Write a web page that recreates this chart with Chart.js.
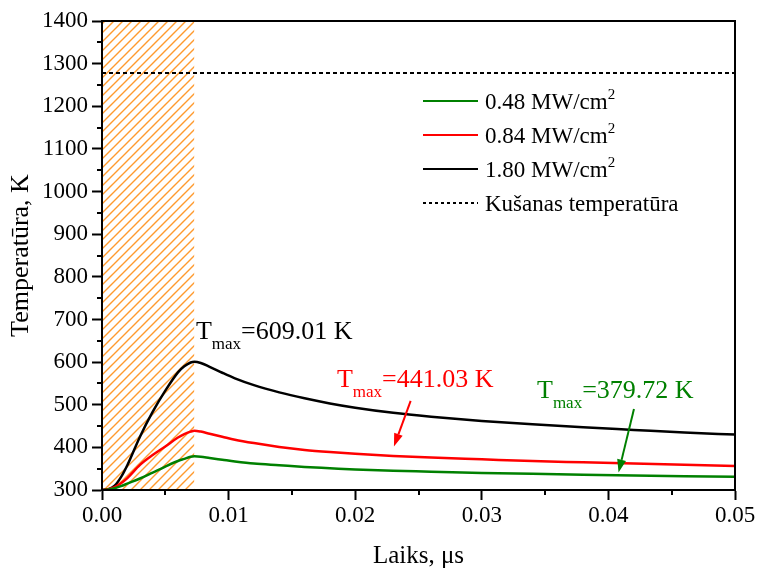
<!DOCTYPE html>
<html lang="lv">
<head>
  <meta charset="UTF-8" />
  <title>Temperatūra pret laiku</title>
  <script src="https://cdn.jsdelivr.net/npm/chart.js@4.4.0/dist/chart.umd.min.js"></script>
  <style>
    html, body { margin: 0; padding: 0; background: #fff; }
    canvas { display: block; }
  </style>
</head>
<body>
<canvas id="chart" width="759" height="571"></canvas>

<script>
  // ── data ────────────────────────────────────────────────────
  const timeUs   = [0, 0.0005, 0.001, 0.0015, 0.002, 0.003, 0.004, 0.005, 0.006, 0.0065, 0.007, 0.0073,
                    0.0078, 0.0085, 0.0095, 0.0105, 0.012, 0.014, 0.016, 0.018, 0.02, 0.023, 0.026,
                    0.03, 0.034, 0.038, 0.042, 0.046, 0.05];
  const temp048  = [300, 301, 304, 309, 315, 327, 341, 355, 368, 373, 378, 379,
                    378, 375, 371, 367, 362, 358, 354, 351, 348, 345, 343,
                    340, 338, 336, 334, 332.5, 331];
  const temp084  = [300, 302, 307, 316, 328, 359, 382, 402, 423, 431, 437, 439,
                    437, 432, 425, 418, 410, 401, 394, 389, 385, 380, 376,
                    372, 368, 365, 362, 359, 356];
  const temp180  = [300, 302, 310, 330, 358, 425, 483, 533, 576, 590, 599, 601,
                    598, 589, 575, 562, 546, 529, 515, 503, 493, 481, 472,
                    462, 454, 447, 441, 435, 430];
  const seriesLabels = ['0.48 MW/cm²', '0.84 MW/cm²', '1.80 MW/cm²'];
  const meltLabel    = 'Kušanas temperatūra';
  const meltTemp     = 1278;
  const pulseEnd     = 0.0073;              // hatched laser pulse
  const peakTexts    = ['=379.72 K', '=441.03 K', '=609.01 K'];
  const xTitle = 'Laiks, μs';
  const yTitle = 'Temperatūra, K';

  // annotation anchors (data units)
  const peakLabelAt = [[0.03436, 516], [0.01856, 542], [0.00742, 654]];
  const arrowTail   = [[0.04202, 490], [0.02438, 509], null];
  const arrowHead   = [[0.04080, 341], [0.02306, 402], null];

  const colors = ['#008000', '#ff0000', '#000000'];
  const SERIF = "'Liberation Serif', 'Times New Roman', serif";

  const pts = ys => timeUs.map((t, i) => ({ x: t, y: ys[i] }));

  function hatchPattern() {
    const s = 9, c = document.createElement('canvas');
    c.width = c.height = s;
    const g = c.getContext('2d');
    g.strokeStyle = '#ff9a2e';
    g.lineWidth = 1.4;
    g.beginPath();
    g.moveTo(0, s); g.lineTo(s, 0);
    g.moveTo(-2, 2); g.lineTo(2, -2);
    g.moveTo(s - 2, s + 2); g.lineTo(s + 2, s - 2);
    g.stroke();
    return g.createPattern(c, 'repeat');
  }

  // text with a raised (sup) or lowered (sub) part
  function richText(ctx, x, y, parts) {
    for (const p of parts) {
      ctx.font = p.size + 'px ' + SERIF;
      ctx.fillText(p.t, x, y + (p.dy || 0));
      x += ctx.measureText(p.t).width;
    }
  }

  function arrow(ctx, x1, y1, x2, y2, color) {
    const a = Math.atan2(y2 - y1, x2 - x1), L = 13, W = 4.5;
    const bx = x2 - L * Math.cos(a), by = y2 - L * Math.sin(a);
    ctx.strokeStyle = color; ctx.fillStyle = color; ctx.lineWidth = 2;
    ctx.beginPath(); ctx.moveTo(x1, y1); ctx.lineTo(bx, by); ctx.stroke();
    ctx.beginPath();
    ctx.moveTo(x2, y2);
    ctx.lineTo(bx + W * Math.sin(a), by - W * Math.cos(a));
    ctx.lineTo(bx - W * Math.sin(a), by + W * Math.cos(a));
    ctx.closePath(); ctx.fill();
  }

  const decor = {
    id: 'decor',
    afterDraw(chart) {
      const { ctx, chartArea: a, scales: { x, y } } = chart;
      ctx.save();
      // frame
      ctx.strokeStyle = '#000'; ctx.lineWidth = 2;
      ctx.strokeRect(a.left, a.top, a.right - a.left, a.bottom - a.top);

      // minor ticks
      ctx.beginPath();
      for (let v = 350; v < 1400; v += 100) {
        const py = Math.round(y.getPixelForValue(v));
        ctx.moveTo(a.left - 5, py); ctx.lineTo(a.left, py);
      }
      for (let v = 0.005; v < 0.05; v += 0.01) {
        const px = Math.round(x.getPixelForValue(v));
        ctx.moveTo(px, a.bottom); ctx.lineTo(px, a.bottom + 5);
      }
      ctx.stroke();

      // legend
      ctx.textBaseline = 'alphabetic';
      const lx = a.left + 321, ly0 = a.top + 80, step = 34;
      seriesLabels.concat([meltLabel]).forEach((lab, i) => {
        const ly = ly0 + i * step;
        ctx.strokeStyle = i < 3 ? colors[i] : '#000';
        ctx.lineWidth = 2;
        ctx.setLineDash(i < 3 ? [] : [3, 3]);
        ctx.beginPath(); ctx.moveTo(lx, ly); ctx.lineTo(lx + 55, ly); ctx.stroke();
        ctx.setLineDash([]);
        ctx.fillStyle = '#000';
        const sup = lab.endsWith('²');
        richText(ctx, lx + 62, ly + 8, sup
          ? [{ t: lab.slice(0, -1), size: 23 }, { t: '2', size: 15, dy: -10 }]
          : [{ t: lab, size: 23 }]);
      });

      // peak labels and arrows
      peakTexts.forEach((txt, i) => {
        ctx.fillStyle = colors[i];
        const px = x.getPixelForValue(peakLabelAt[i][0]);
        const py = y.getPixelForValue(peakLabelAt[i][1]);
        richText(ctx, px, py, [
          { t: 'T', size: 26 },
          { t: 'max', size: 17, dy: 10 },
          { t: txt, size: 26 }
        ]);
        if (arrowTail[i]) {
          arrow(ctx,
            x.getPixelForValue(arrowTail[i][0]), y.getPixelForValue(arrowTail[i][1]),
            x.getPixelForValue(arrowHead[i][0]), y.getPixelForValue(arrowHead[i][1]),
            colors[i]);
        }
      });
      ctx.restore();
    }
  };

  const tickFont = { family: SERIF, size: 23 };

  const config = {
    type: 'line',
    data: {
      datasets: [
        { label: 'pulse', data: [{ x: 0, y: 1400 }, { x: pulseEnd, y: 1400 }],
          fill: 'start', backgroundColor: hatchPattern(), borderWidth: 0, pointRadius: 0, order: 10 },
        { label: meltLabel, data: [{ x: 0, y: meltTemp }, { x: 0.05, y: meltTemp }],
          borderColor: '#000', borderWidth: 2, borderDash: [4, 3], pointRadius: 0, order: 5 },
        { label: seriesLabels[0], data: pts(temp048), borderColor: colors[0] },
        { label: seriesLabels[1], data: pts(temp084), borderColor: colors[1] },
        { label: seriesLabels[2], data: pts(temp180), borderColor: colors[2] }
      ]
    },
    options: {
      responsive: false,
      animation: false,
      parsing: false,
      layout: { padding: { top: 21, right: 24, left: 0, bottom: 0 } },
      elements: {
        line: { borderWidth: 2.5, cubicInterpolationMode: 'monotone', fill: false },
        point: { radius: 0 }
      },
      plugins: { legend: { display: false }, tooltip: { enabled: false } },
      scales: {
        x: {
          type: 'linear', min: 0, max: 0.05,
          afterFit: s => { s.height = 81; },
          border: { display: true, color: '#000', width: 2 },
          grid: { drawOnChartArea: false, tickLength: 10, tickColor: '#000', tickWidth: 2 },
          ticks: { stepSize: 0.01, color: '#000', font: tickFont, padding: 2,
                   maxRotation: 0, callback: v => v.toFixed(2) },
          title: { display: true, text: xTitle, color: '#000',
                   font: { family: SERIF, size: 25 }, padding: { top: 0, bottom: 0 } }
        },
        y: {
          min: 300, max: 1400,
          afterFit: s => { s.width = 102; },
          border: { display: true, color: '#000', width: 2 },
          grid: { drawOnChartArea: false, tickLength: 10, tickColor: '#000', tickWidth: 2 },
          ticks: { stepSize: 100, color: '#000', font: tickFont, padding: 4,
                   callback: v => String(v) },
          title: { display: true, text: yTitle, color: '#000',
                   font: { family: SERIF, size: 26 }, padding: { top: 6, bottom: 0 } }
        }
      }
    },
    plugins: [decor]
  };

  new Chart(document.getElementById('chart'), config);
</script>
</body>
</html>
